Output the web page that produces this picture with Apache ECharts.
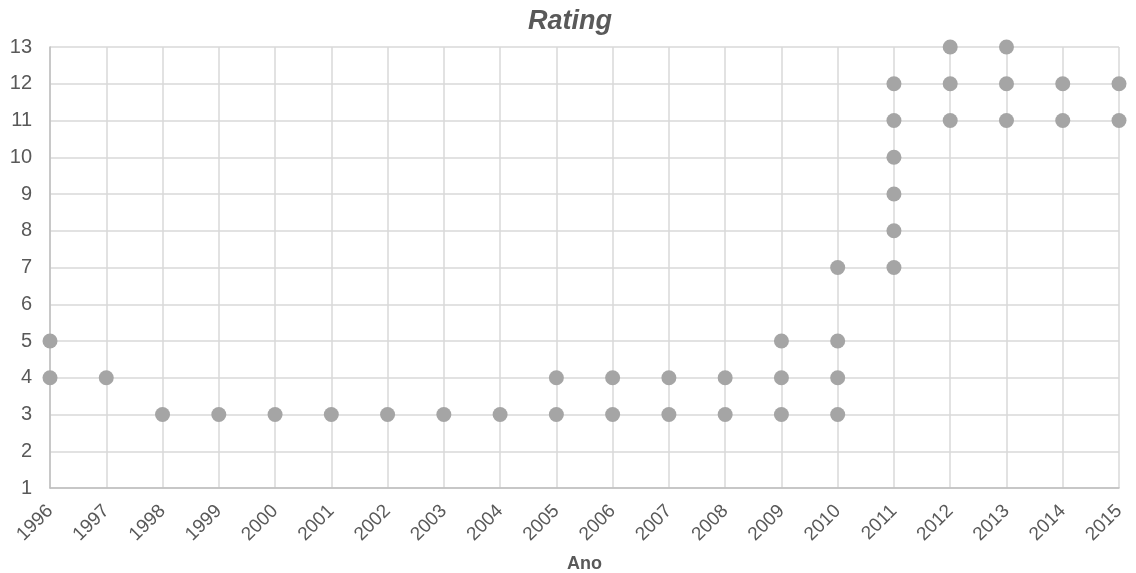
<!DOCTYPE html>
<html>
<head>
<meta charset="utf-8">
<script src="https://cdn.jsdelivr.net/npm/echarts@6/dist/echarts.min.js"></script>
<style>
  html, body { margin: 0; padding: 0; background: #fff; }
  #chart { width: 1136px; height: 573px; }
</style>
</head>
<body>
<div id="chart"></div>
<script>
// Observations: year and rating, one entry per point
const years = [
  1996, 1996,
  1997,
  1998, 1999, 2000, 2001, 2002, 2003, 2004,
  2005, 2005,
  2006, 2006,
  2007, 2007,
  2008, 2008,
  2009, 2009, 2009,
  2010, 2010, 2010, 2010,
  2011, 2011, 2011, 2011, 2011, 2011,
  2012, 2012, 2012,
  2013, 2013, 2013,
  2014, 2014,
  2015, 2015
];
const ratings = [
  4, 5,
  4,
  3, 3, 3, 3, 3, 3, 3,
  3, 4,
  3, 4,
  3, 4,
  3, 4,
  3, 4, 5,
  3, 4, 5, 7,
  7, 8, 9, 10, 11, 12,
  11, 12, 13,
  11, 12, 13,
  11, 12,
  11, 12
];

const points = years.map((y, i) => [y, ratings[i]]);
const FONT = 'Liberation Sans, Arial, sans-serif';

const chart = echarts.init(document.getElementById('chart'), null, { renderer: 'canvas' });
chart.setOption({
  animation: false,
  backgroundColor: '#ffffff',
  title: {
    text: 'Rating',
    left: 565,
    textAlign: 'center',
    top: 3,
    textStyle: {
      fontFamily: FONT,
      fontSize: 27,
      fontWeight: 'bold',
      fontStyle: 'italic',
      color: '#595959'
    }
  },
  grid: {
    left: 50, right: 17, top: 47, bottom: 85,
    containLabel: false,
    outerBoundsMode: 'none'
  },
  xAxis: {
    type: 'value',
    min: 1996,
    max: 2015,
    interval: 1,
    name: 'Ano',
    nameLocation: 'middle',
    nameGap: 67,
    nameTextStyle: {
      fontFamily: FONT,
      fontSize: 18,
      fontWeight: 'bold',
      color: '#595959'
    },
    axisLine: { show: true, lineStyle: { color: '#bfbfbf', width: 1.5 } },
    axisTick: { show: false },
    axisLabel: {
      rotate: 45,
      margin: 20,
      fontFamily: FONT,
      fontSize: 19,
      color: '#595959',
      formatter: v => String(v)
    },
    splitLine: { show: true, lineStyle: { color: '#d9d9d9', width: 1.5 } }
  },
  yAxis: {
    type: 'value',
    min: 1,
    max: 13,
    interval: 1,
    axisLine: { show: true, lineStyle: { color: '#bfbfbf', width: 1.5 } },
    axisTick: { show: false },
    axisLabel: {
      margin: 18,
      fontFamily: FONT,
      fontSize: 20,
      color: '#595959'
    },
    splitLine: { show: true, lineStyle: { color: '#d9d9d9', width: 1.5 } }
  },
  series: [{
    type: 'scatter',
    data: points,
    symbol: 'circle',
    symbolSize: 15,
    clip: false,
    itemStyle: { color: '#a5a5a5', opacity: 1 }
  }]
});
</script>
</body>
</html>
